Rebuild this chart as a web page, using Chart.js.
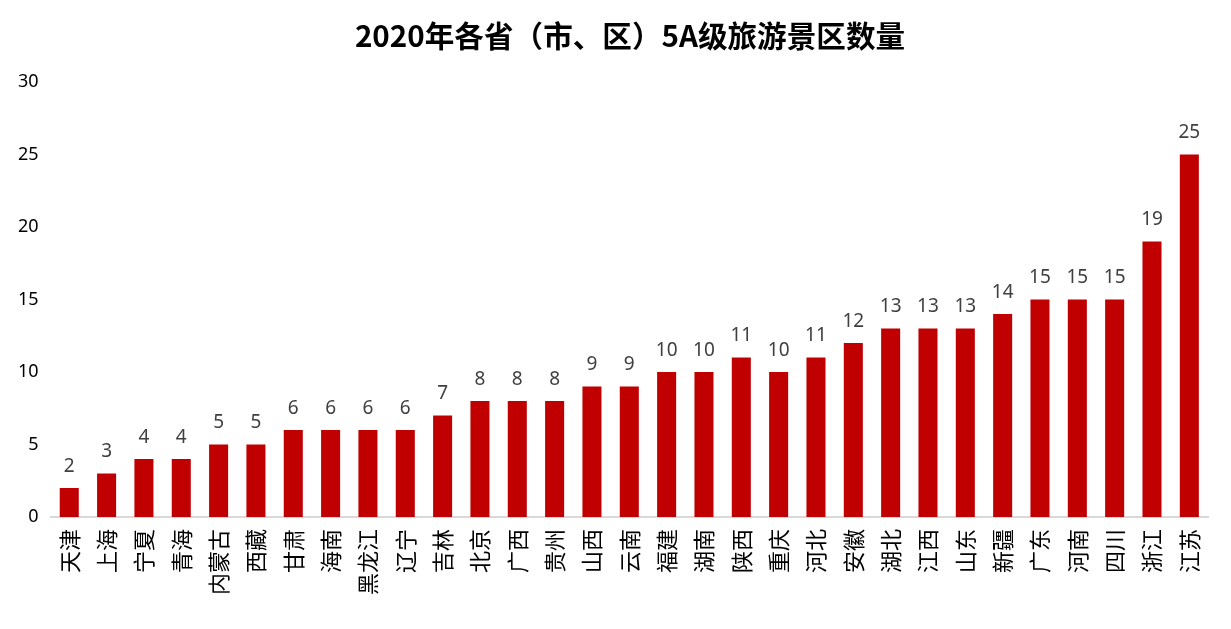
<!DOCTYPE html>
<html>
<head>
<meta charset="utf-8">
<script src="https://cdn.jsdelivr.net/npm/chart.js@4/dist/chart.umd.min.js"></script>
<style>
html,body{margin:0;padding:0;background:#fff;}
#wrap{width:1231px;height:629px;}
</style>
</head>
<body>
<div id="wrap"><canvas id="c" width="1231" height="629"></canvas></div>
<script>
const categories = ["天津","上海","宁夏","青海","内蒙古","西藏","甘肃","海南","黑龙江","辽宁","吉林","北京","广西","贵州","山西","云南","福建","湖南","陕西","重庆","河北","安徽","湖北","江西","山东","新疆","广东","河南","四川","浙江","江苏"];
const values = [2,3,4,4,5,5,6,6,6,6,7,8,8,8,9,9,10,10,11,10,11,12,13,13,13,14,15,15,15,19,25];
const yTicks = [0,5,10,15,20,25,30];
const titleText = "2020年各省（市、区）5A级旅游景区数量";

const labelPlugin = {
  id: 'valueLabels',
  afterDatasetsDraw(chart) {
    const ctx = chart.ctx;
    const meta = chart.getDatasetMeta(0);
    ctx.save();
    ctx.font = '19px "Noto Sans", "DejaVu Sans", sans-serif';
    ctx.fillStyle = '#404040';
    ctx.textAlign = 'center';
    ctx.textBaseline = 'alphabetic';
    meta.data.forEach((bar, i) => {
      ctx.fillText(String(values[i]), bar.x, bar.y - 16);
    });
    ctx.restore();
  }
};

const titlePlugin = {
  id: 'centeredTitle',
  afterDraw(chart) {
    const ctx = chart.ctx;
    ctx.save();
    ctx.font = 'bold 29.6px "Noto Sans CJK SC", sans-serif';
    ctx.fillStyle = '#000';
    ctx.textAlign = 'center';
    ctx.textBaseline = 'middle';
    ctx.fillText(titleText, 630, 36);
    ctx.restore();
  }
};

new Chart(document.getElementById('c'), {
  type: 'bar',
  data: {
    labels: categories,
    datasets: [{
      data: values,
      backgroundColor: '#C00000',
      barPercentage: 1.0,
      categoryPercentage: 0.51
    }]
  },
  options: {
    responsive: false,
    animation: false,
    layout: { padding: { left: 6, right: 23, top: 82, bottom: 22 } },
    plugins: {
      legend: { display: false },
      tooltip: { enabled: false },
      title: { display: false }
    },
    scales: {
      x: {
        grid: { display: false, drawTicks: false },
        border: { display: true, color: '#d9d9d9', width: 2 },
        ticks: {
          minRotation: 90, maxRotation: 90, autoSkip: false,
          color: '#000', padding: 12,
          font: { family: '"Noto Sans CJK SC", sans-serif', size: 22 }
        }
      },
      y: {
        min: 0, max: 30,
        afterBuildTicks(scale) { scale.ticks = yTicks.map(v => ({ value: v })); },
        grid: { display: false, drawTicks: false },
        border: { display: false },
        ticks: {
          color: '#000', padding: 12,
          font: { family: '"Noto Sans", "DejaVu Sans", sans-serif', size: 18 }
        }
      }
    }
  },
  plugins: [labelPlugin, titlePlugin]
});
</script>
</body>
</html>
